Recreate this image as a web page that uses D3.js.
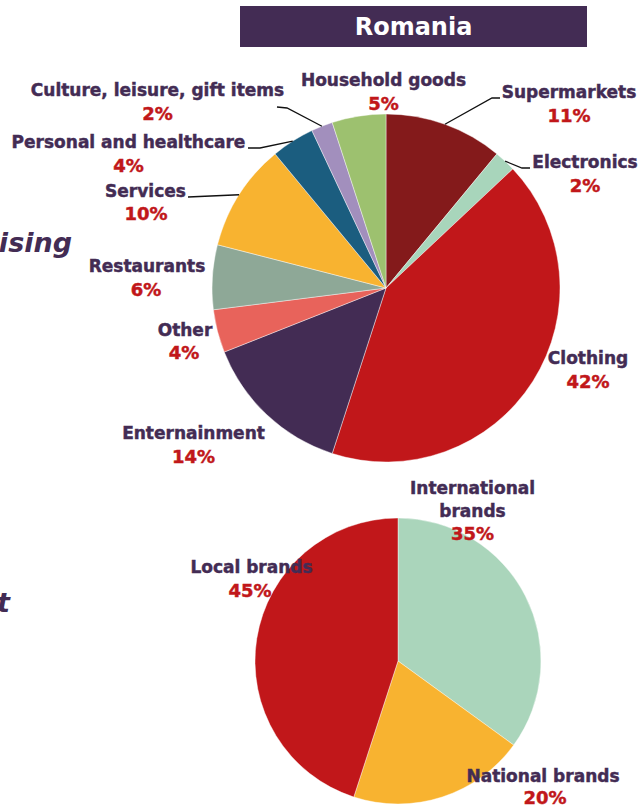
<!DOCTYPE html>
<html>
<head>
<meta charset="utf-8">
<script src="https://cdn.jsdelivr.net/npm/d3@7"></script>
<style>
  html, body { margin: 0; padding: 0; background: #ffffff; overflow: hidden; }
  svg { display: block; }
  text { font-family: "DejaVu Sans", Verdana, sans-serif; font-weight: bold; }
  tspan.lab { stroke-width: 0.45; }
</style>
</head>
<body>
<svg id="chart" width="642" height="807"></svg>
<script>
// ---- data: advertising spend by retail sector ----
const sectorCategories = [
  "Supermarkets", "Electronics", "Clothing", "Enternainment", "Other",
  "Restaurants", "Services", "Personal and healthcare",
  "Culture, leisure, gift items", "Household goods"
];
const sectorValues = [11, 2, 42, 14, 4, 6, 10, 4, 2, 5];
const sectorColors = [
  "#841a1b", "#a8d5bb", "#c1171a", "#432c54", "#e8635b",
  "#8ea897", "#f8b330", "#1b5d7f", "#a28fbd", "#9dc16f"
];

// ---- data: brand origin split ----
const brandCategories = ["International brands", "National brands", "Local brands"];
const brandValues = [35, 20, 45];
const brandColors = ["#aad5bb", "#f8b330", "#c1171a"];

const countryTitle = "Romania";

const PURPLE = "#432c54";
const RED = "#c1171a";

const svg = d3.select("#chart");

// side headings running in from the left margin
svg.append("text")
  .attr("x", 72).attr("y", 252)
  .attr("text-anchor", "end")
  .attr("font-size", 27).attr("font-style", "italic")
  .attr("fill", PURPLE)
  .text("Advertising");
svg.append("text")
  .attr("x", 10).attr("y", 612)
  .attr("text-anchor", "end")
  .attr("font-size", 27).attr("font-style", "italic")
  .attr("fill", PURPLE)
  .text("Brand segment");

// country banner
svg.append("rect")
  .attr("x", 240).attr("y", 6).attr("width", 347).attr("height", 41)
  .attr("fill", PURPLE);
svg.append("text")
  .attr("x", 413.5).attr("y", 35)
  .attr("text-anchor", "middle")
  .attr("font-size", 24).attr("fill", "#ffffff")
  .text(countryTitle);

// generic pie drawer
function drawPie(cfg) {
  const g = svg.append("g").attr("transform", `translate(${cfg.cx},${cfg.cy})`);
  const pie = d3.pie().sort(null).value(d => d.value);
  const arc = d3.arc().innerRadius(0).outerRadius(cfg.r);
  const data = cfg.categories.map((c, i) => ({ name: c, value: cfg.values[i], color: cfg.colors[i] }));
  const arcs = pie(data);

  g.selectAll("path.slice")
    .data(arcs)
    .join("path")
    .attr("class", "slice")
    .attr("d", arc)
    .attr("fill", d => d.data.color)
    .attr("stroke", "#ffffff")
    .attr("stroke-opacity", 0.6)
    .attr("stroke-width", 0.7);

  // leader lines from label to the slice rim
  arcs.forEach((d, i) => {
    const lay = cfg.layout[i];
    if (!lay.leader) return;
    const mid = (d.startAngle + d.endAngle) / 2;
    const ex = cfg.cx + cfg.r * Math.sin(mid);
    const ey = cfg.cy - cfg.r * Math.cos(mid);
    const pts = lay.leader.concat([[ex, ey]]);
    svg.append("path")
      .attr("d", d3.line()(pts))
      .attr("fill", "none")
      .attr("stroke", "#111111")
      .attr("stroke-width", 1.3);
  });

  // category + percentage labels
  arcs.forEach((d, i) => {
    const lay = cfg.layout[i];
    const lines = lay.lines || [d.data.name];
    const t = svg.append("text")
      .attr("text-anchor", "middle")
      .attr("font-size", 17);
    lines.forEach((ln, k) => {
      t.append("tspan")
        .attr("class", "lab")
        .attr("x", lay.x)
        .attr("y", lay.y + k * cfg.lineGap)
        .attr("fill", PURPLE)
        .attr("stroke", PURPLE)
        .text(ln);
    });
    t.append("tspan")
      .attr("class", "lab")
      .attr("x", lay.px !== undefined ? lay.px : lay.x)
      .attr("y", lay.y + lines.length * cfg.lineGap + (lay.pdy || 0))
      .attr("fill", RED)
      .attr("stroke", RED)
      .attr("font-size", 18)
      .text(d3.format("d")(d.data.value) + "%");
  });
}

drawPie({
  cx: 386, cy: 288, r: 174, lineGap: 24,
  categories: sectorCategories, values: sectorValues, colors: sectorColors,
  layout: [
    { x: 569, y: 98, leader: [[500, 98], [492, 98]] },
    { x: 585, y: 168, leader: [[530, 168], [522, 168]] },
    { x: 588, y: 364 },
    { x: 193.5, y: 439 },
    { x: 185, y: 336, px: 184, pdy: -1 },
    { x: 147, y: 272, px: 146 },
    { x: 145.5, y: 197, px: 146, pdy: -1, leader: [[188, 197]] },
    { x: 128.5, y: 148, leader: [[248, 148], [260, 148]] },
    { x: 157.5, y: 96, leader: [[277, 107], [287, 108]] },
    { x: 383.5, y: 86 }
  ]
});

drawPie({
  cx: 398, cy: 661, r: 143, lineGap: 23,
  categories: brandCategories, values: brandValues, colors: brandColors,
  layout: [
    { x: 472.5, y: 494, lines: ["International", "brands"] },
    { x: 543, y: 782, px: 545, pdy: -1 },
    { x: 251.5, y: 573, px: 250, pdy: 1 }
  ]
});
</script>
</body>
</html>
